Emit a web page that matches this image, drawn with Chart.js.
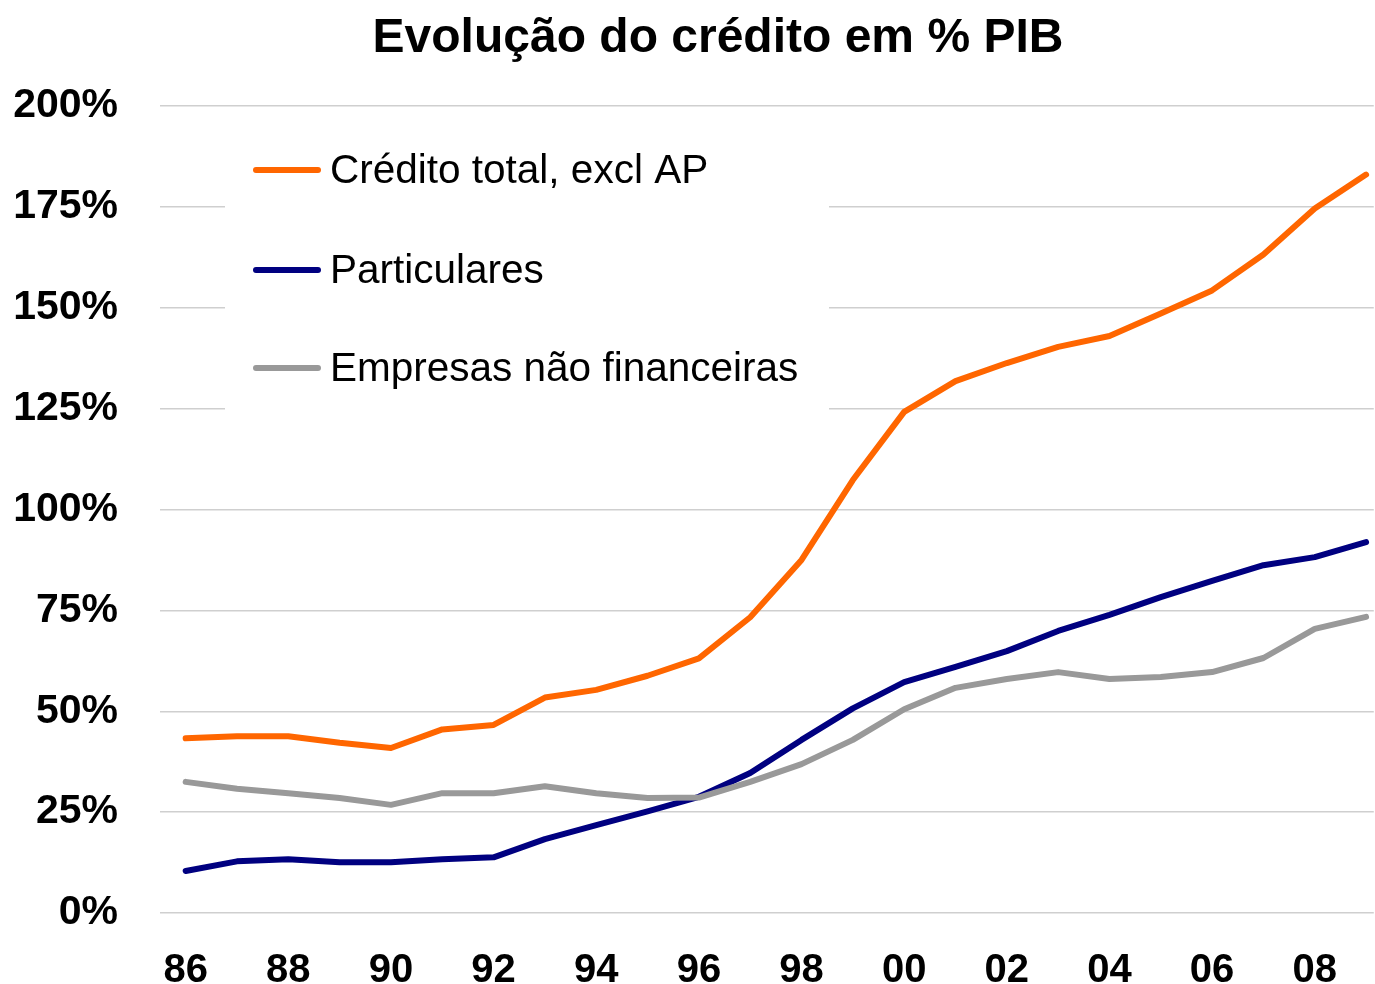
<!DOCTYPE html>
<html>
<head>
<meta charset="utf-8">
<script src="https://cdn.jsdelivr.net/npm/chart.js@4"></script>
<style>
  html, body { margin: 0; padding: 0; background: #fff; }
  #wrap { width: 1375px; height: 984px; }
</style>
</head>
<body>
<div id="wrap"><canvas id="chart"></canvas></div>
<script>
// Years on the x axis and the ones that carry a label
const years = [1986, 1987, 1988, 1989, 1990, 1991, 1992, 1993, 1994, 1995, 1996, 1997,
               1998, 1999, 2000, 2001, 2002, 2003, 2004, 2005, 2006, 2007, 2008, 2009];
const xTickYears = [1986, 1988, 1990, 1992, 1994, 1996, 1998, 2000, 2002, 2004, 2006, 2008];
const xTickLabels = ['86', '88', '90', '92', '94', '96', '98', '00', '02', '04', '06', '08'];

// Series (% of GDP)
const creditoTotal = [43.3, 43.8, 43.8, 42.2, 40.9, 45.5, 46.6, 53.4, 55.3, 58.8, 63.1, 73.3,
                      87.5, 107.3, 124.2, 131.8, 136.3, 140.3, 143.0, 148.6, 154.3, 163.2, 174.6, 183.0];
const particulares = [10.4, 12.8, 13.3, 12.6, 12.6, 13.3, 13.8, 18.3, 21.8, 25.2, 28.8, 34.7,
                      42.9, 50.7, 57.2, 61.0, 64.9, 69.9, 73.9, 78.3, 82.3, 86.2, 88.2, 91.9];
const empresas = [32.5, 30.8, 29.7, 28.5, 26.8, 29.7, 29.7, 31.4, 29.7, 28.5, 28.6, 32.5,
                  36.9, 42.9, 50.5, 55.8, 58.0, 59.7, 58.0, 58.5, 59.7, 63.2, 70.4, 73.4];

const seriesLabels = ['Crédito total, excl AP', 'Particulares', 'Empresas não financeiras'];
const seriesColors = ['#ff6600', '#000080', '#999999'];

const FONT = '"Liberation Sans", Arial, Helvetica, sans-serif';

const toPoints = (vals) => vals.map((v, i) => ({ x: years[i], y: v }));

// Title drawn on the canvas, centred over the page
const titlePlugin = {
  id: 'titleText',
  afterDraw(chart) {
    const ctx = chart.ctx;
    ctx.save();
    ctx.font = 'bold 48px ' + FONT;
    ctx.fillStyle = '#000';
    ctx.textAlign = 'center';
    ctx.textBaseline = 'alphabetic';
    ctx.fillText('Evolução do crédito em % PIB', 718, 52);
    ctx.restore();
  }
};

// Legend inside the plot, on a white box that hides the grid behind it
const boxLegend = {
  id: 'boxLegend',
  beforeDatasetsDraw(chart) {
    const ctx = chart.ctx;
    ctx.save();
    ctx.fillStyle = '#fff';
    ctx.fillRect(225, 110, 604, 304);
    const rows = [170, 270, 368];
    chart.data.datasets.forEach((ds, i) => {
      const y = rows[i];
      ctx.strokeStyle = ds.borderColor;
      ctx.lineWidth = 6;
      ctx.lineCap = 'round';
      ctx.beginPath();
      ctx.moveTo(256, y);
      ctx.lineTo(318, y);
      ctx.stroke();
      ctx.fillStyle = '#000';
      ctx.font = '40.5px ' + FONT;
      ctx.textBaseline = 'middle';
      ctx.textAlign = 'left';
      ctx.fillText(ds.label, 330, y + 2);
    });
    ctx.restore();
  }
};

new Chart(document.getElementById('chart'), {
  type: 'line',
  data: {
    datasets: [creditoTotal, particulares, empresas].map((vals, i) => ({
      label: seriesLabels[i],
      data: toPoints(vals),
      borderColor: seriesColors[i],
      backgroundColor: seriesColors[i],
      borderWidth: 6,
      borderCapStyle: 'round',
      borderJoinStyle: 'round',
      pointRadius: 0,
      tension: 0,
      fill: false,
      order: 3 - i   // later series drawn on top, as in the original
    }))
  },
  options: {
    responsive: true,
    maintainAspectRatio: false,
    animation: false,
    layout: { padding: { top: 106, right: 0, left: 0, bottom: 0 } },
    plugins: {
      legend: { display: false },
      title: { display: false },
      tooltip: { enabled: false }
    },
    scales: {
      x: {
        type: 'linear',
        min: 1985.5,
        max: 2009.15,
        afterBuildTicks: (scale) => { scale.ticks = xTickYears.map(v => ({ value: v })); },
        afterFit: (scale) => { scale.height = 71; },
        grid: { display: false, drawTicks: false },
        border: { display: false },
        ticks: {
          padding: 38,
          maxRotation: 0,
          autoSkip: false,
          color: '#000',
          font: { family: FONT, size: 40, weight: 'bold', lineHeight: 1 },
          callback: (v) => xTickLabels[xTickYears.indexOf(v)]
        }
      },
      y: {
        min: 0,
        max: 200,
        afterFit: (scale) => { scale.width = 160; },
        grid: { color: '#cfcfcf', lineWidth: 1.5, drawTicks: false },
        border: { display: false },
        ticks: {
          stepSize: 25,
          padding: 42,
          color: '#000',
          font: { family: FONT, size: 41, weight: 'bold' },
          callback: (v) => v + '%'
        }
      }
    }
  },
  plugins: [boxLegend, titlePlugin]
});
</script>
</body>
</html>
